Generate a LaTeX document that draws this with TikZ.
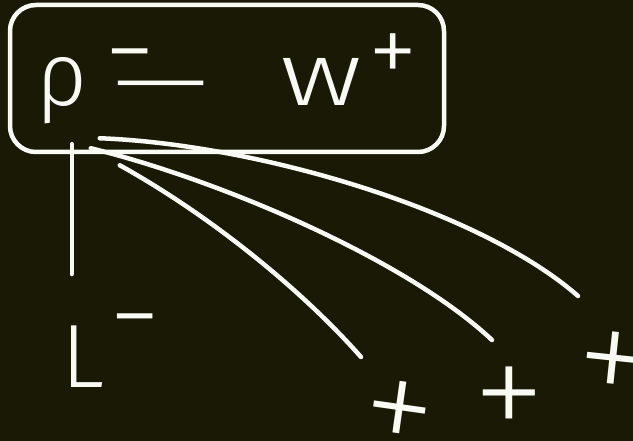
\documentclass[tikz,border=0pt]{standalone}
\usepackage{fontspec,graphicx}
\usetikzlibrary{calc}
\newfontfamily\hand{Fira Sans Light}
\newfontfamily\thin{Fira Sans ExtraLight}
\definecolor{slate}{HTML}{1A1905}
\definecolor{chalk}{HTML}{FAFAF5}
\tikzset{pill/.style={draw=chalk,line width=4.5pt,rounded corners=26pt,minimum width=434pt,minimum height=147pt,inner sep=0pt,text=chalk,font=\hand\fontsize{90}{90}\selectfont},wire/.style={draw=chalk,line width=4.5pt,line cap=round},glyph/.style={inner sep=0pt,text=chalk,font=\hand\fontsize{90}{90}\selectfont},cross/.style={glyph,font=\thin\fontsize{150}{150}\selectfont}}
\newcommand\up[2]{\raisebox{#1}{\fontsize{100}{100}\selectfont #2}}

\begin{document}
\begin{tikzpicture}[x=1pt,y=-1pt]
\fill[slate] (0,0) rectangle (633,441);
\useasboundingbox (0,0) rectangle (633,441);
\node[pill] (pair) at (227,78.5) {\makebox[434pt][l]{\kern27pt ρ\kern17pt\up{21pt}{−}\kern-41pt\raisebox{-6pt}{\scalebox{1.35}[1]{—}}\kern72pt\scalebox{1.3}[1]{w}\kern6pt\up{21pt}{+}}};
\node[glyph,anchor=base west] (lep) at (61,388) {L\kern6pt\up{38pt}{−}};
\node[cross,rotate=-8] (p1) at (398,419) {+};
\node[cross] (p2) at (509,405) {+};
\node[cross,rotate=-6] (p3) at (612,370) {+};
\draw[wire,shorten >=40pt] ([shift={(64,-10)}]pair.south west) coordinate (v) -- (v |- lep.north);
\draw[wire] ([shift={(112,11)}]pair.south west) .. controls +(90,50) and +(-60,-68) .. ([shift={(-37,-62)}]p1.center);
\draw[wire] ([shift={(83,-6)}]pair.south west) .. controls +(130,32) and +(-85,-80) .. ([shift={(-17,-65)}]p2.center);
\draw[wire] ([shift={(92,-16)}]pair.south west) .. controls +(158,6) and +(-98,-86) .. ([shift={(-34,-74)}]p3.center);
\end{tikzpicture}
\end{document}
